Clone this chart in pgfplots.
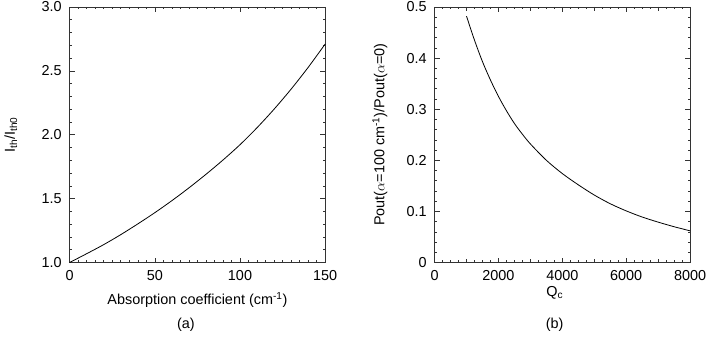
\documentclass[border=0pt]{standalone}
\usepackage{amsmath}
\usepackage{pgfplots}
\pgfplotsset{compat=1.18}
\usepackage{fontspec}
\setmainfont{Liberation Sans}
\begin{document}
\fontsize{14.5}{17}\selectfont
\pgfplotsset{
  every axis/.append style={
    scale only axis,
    width=257pt, height=257pt,
    clip=false,
    axis line style={black!80, line width=0.6pt},
    tick align=inside,
    tick style={black!80, line width=0.5pt},
    major tick length=5pt,
    minor tick length=2.5pt,
    tick label style={font=\fontsize{14.5}{17}\selectfont},
    label style={font=\fontsize{14.5}{17}\selectfont},
    /pgf/number format/assume math mode=true,
    /pgf/number format/1000 sep={},
    scaled ticks=false,
    xticklabel style={yshift=-3pt},
    yticklabel style={xshift=-3pt},
  }
}
\begin{tikzpicture}
\path[use as bounding box] (-66pt,-76pt) rectangle (645pt,264pt);
\begin{axis}[
  at={(0pt,0pt)}, anchor=south west,
  xmin=0, xmax=150, ymin=1, ymax=3,
  xtick={0,50,100,150}, minor x tick num=9,
  ytick={1,1.5,2,2.5,3}, minor y tick num=4,
  yticklabel style={/pgf/number format/.cd, fixed, fixed zerofill, precision=1},
  xlabel={Absorption coefficient (cm$^{\text{-1}}$)},
  ylabel={I$_{\text{th}}$/I$_{\text{th0}}$},
  xlabel style={at={(axis description cs:0.5,-0.148)}, anchor=center},
  ylabel style={at={(axis description cs:-0.23,0.5)}, anchor=center},
]
\addplot[black, line width=0.8pt, smooth] coordinates {
(0,1.000) (10,1.069) (20,1.140) (30,1.218) (40,1.302) (50,1.390)
(60,1.484) (70,1.584) (80,1.690) (90,1.802) (100,1.922) (110,2.055)
(120,2.200) (130,2.357) (140,2.527) (150,2.710)
};
\node at (axis description cs:0.455,-0.245) {(a)};
\end{axis}
\begin{axis}[
  at={(367pt,0pt)}, anchor=south west,
  xmin=0, xmax=8000, ymin=0, ymax=0.5,
  xtick={0,2000,4000,6000,8000}, minor x tick num=7,
  extra x ticks={1000,3000,5000,7000}, extra x tick labels={},
  extra x tick style={major tick length=4pt},
  ytick={0,0.1,0.2,0.3,0.4,0.5}, minor y tick num=4,
  xlabel={Q$_{\text{c}}$},
  ylabel={Pout($\alpha$=100 cm$^{\text{-1}}$)/Pout($\alpha$=0)},
  xlabel style={at={(axis description cs:0.47,-0.118)}, anchor=center},
  ylabel style={at={(axis description cs:-0.214,0.5)}, anchor=center},
]
\addplot[black, line width=0.8pt, smooth] coordinates {
(1000,0.482) (1250,0.435) (1500,0.393) (1750,0.357) (2000,0.325)
(2250,0.297) (2500,0.272) (2750,0.251) (3000,0.232) (3500,0.200)
(4000,0.174) (4500,0.152) (5000,0.132) (5500,0.115) (6000,0.101)
(6500,0.089) (7000,0.079) (7500,0.070) (8000,0.062)
};
\node at (axis description cs:0.47,-0.245) {(b)};
\end{axis}
\end{tikzpicture}
\end{document}
